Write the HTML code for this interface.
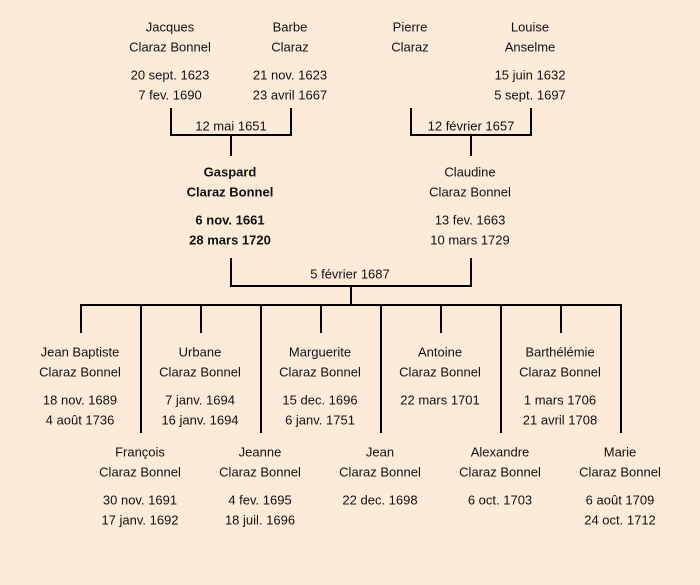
<!DOCTYPE html>
<html><head><meta charset="utf-8"><style>
html,body{margin:0;padding:0;background:#fcebd8;}
svg{display:block}
text{font-family:"Liberation Sans",sans-serif;font-size:13px;fill:#111;text-anchor:middle;dominant-baseline:central}
.b{font-weight:bold}
</style></head><body>
<svg width="700" height="585" viewBox="0 0 700 585">
<rect width="700" height="585" fill="#fcebd8"/>
<g stroke="#000" stroke-width="2" fill="none">
<path d="M171 108V135H291V108M231 135V156"/>
<path d="M411 108V135H531V108M471 135V156"/>
<path d="M231 258V286H471V258M351 286V305"/>
<path d="M80 305H622"/>
<path d="M81 305V333M201 305V333M321 305V333M441 305V333M561 305V333"/>
<path d="M141 305V433M261 305V433M381 305V433M501 305V433M621 305V433"/>
</g>
<text x="170" y="27">Jacques</text><text x="170" y="47">Claraz Bonnel</text>
<text x="170" y="75">20 sept. 1623</text><text x="170" y="95">7 fev. 1690</text>
<text x="290" y="27">Barbe</text><text x="290" y="47">Claraz</text>
<text x="290" y="75">21 nov. 1623</text><text x="290" y="95">23 avril 1667</text>
<text x="410" y="27">Pierre</text><text x="410" y="47">Claraz</text>
<text x="530" y="27">Louise</text><text x="530" y="47">Anselme</text>
<text x="530" y="75">15 juin 1632</text><text x="530" y="95">5 sept. 1697</text>
<text x="231" y="126">12 mai 1651</text>
<text x="471" y="126">12 février 1657</text>
<text class="b" x="230" y="172">Gaspard</text><text class="b" x="230" y="192">Claraz Bonnel</text>
<text class="b" x="230" y="220">6 nov. 1661</text><text class="b" x="230" y="240">28 mars 1720</text>
<text x="470" y="172">Claudine</text><text x="470" y="192">Claraz Bonnel</text>
<text x="470" y="220">13 fev. 1663</text><text x="470" y="240">10 mars 1729</text>
<text x="350" y="274">5 février 1687</text>
<text x="80" y="352">Jean Baptiste</text><text x="80" y="372">Claraz Bonnel</text>
<text x="80" y="400">18 nov. 1689</text><text x="80" y="420">4 août 1736</text>
<text x="200" y="352">Urbane</text><text x="200" y="372">Claraz Bonnel</text>
<text x="200" y="400">7 janv. 1694</text><text x="200" y="420">16 janv. 1694</text>
<text x="320" y="352">Marguerite</text><text x="320" y="372">Claraz Bonnel</text>
<text x="320" y="400">15 dec. 1696</text><text x="320" y="420">6 janv. 1751</text>
<text x="440" y="352">Antoine</text><text x="440" y="372">Claraz Bonnel</text>
<text x="440" y="400">22 mars 1701</text>
<text x="560" y="352">Barthélémie</text><text x="560" y="372">Claraz Bonnel</text>
<text x="560" y="400">1 mars 1706</text><text x="560" y="420">21 avril 1708</text>
<text x="140" y="452">François</text><text x="140" y="472">Claraz Bonnel</text>
<text x="140" y="500">30 nov. 1691</text><text x="140" y="520">17 janv. 1692</text>
<text x="260" y="452">Jeanne</text><text x="260" y="472">Claraz Bonnel</text>
<text x="260" y="500">4 fev. 1695</text><text x="260" y="520">18 juil. 1696</text>
<text x="380" y="452">Jean</text><text x="380" y="472">Claraz Bonnel</text>
<text x="380" y="500">22 dec. 1698</text>
<text x="500" y="452">Alexandre</text><text x="500" y="472">Claraz Bonnel</text>
<text x="500" y="500">6 oct. 1703</text>
<text x="620" y="452">Marie</text><text x="620" y="472">Claraz Bonnel</text>
<text x="620" y="500">6 août 1709</text><text x="620" y="520">24 oct. 1712</text>
</svg>
</body></html>
